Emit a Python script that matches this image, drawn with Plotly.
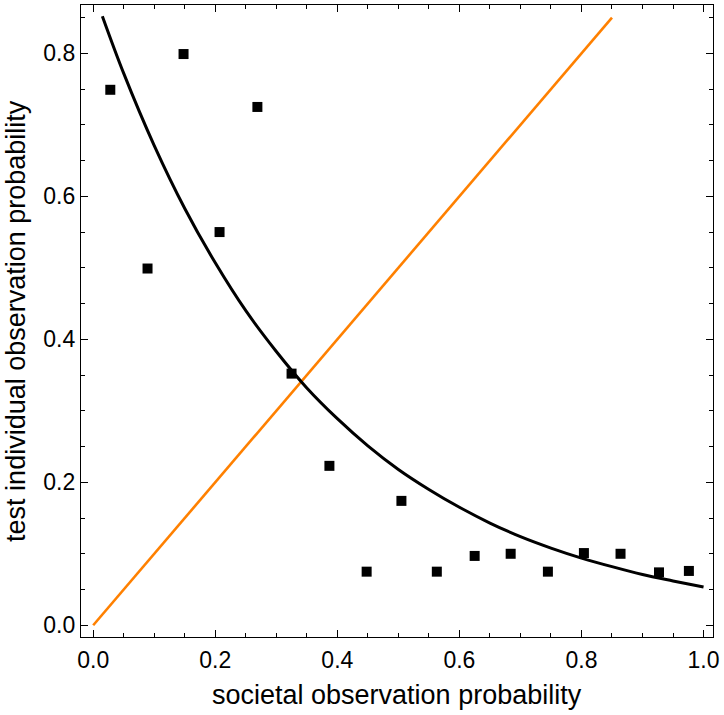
import plotly.graph_objects as go

# Data points
point_x = [0.028, 0.089, 0.148, 0.207, 0.269, 0.325, 0.387, 0.448, 0.505,
           0.563, 0.625, 0.684, 0.745, 0.804, 0.864, 0.927, 0.976]
point_y = [0.749, 0.499, 0.799, 0.550, 0.725, 0.352, 0.223, 0.075, 0.174,
           0.075, 0.097, 0.100, 0.075, 0.101, 0.100, 0.074, 0.076]

# Black fitted curve
curve_x = [0.015, 0.05, 0.1, 0.15, 0.2, 0.25, 0.3, 0.35, 0.4, 0.45, 0.5,
           0.55, 0.6, 0.65, 0.7, 0.75, 0.8, 0.85, 0.9, 0.95, 1.0]
curve_y = [0.852, 0.772, 0.671, 0.583, 0.507, 0.440, 0.383, 0.332, 0.289,
           0.251, 0.218, 0.190, 0.165, 0.143, 0.124, 0.108, 0.094, 0.082,
           0.071, 0.062, 0.0535]

# Orange diagonal line
diag_x = [0.0, 0.85]
diag_y = [0.0, 0.85]

tick_vals = [0.0, 0.2, 0.4, 0.6, 0.8, 1.0]
tick_text = ["0.0", "0.2", "0.4", "0.6", "0.8", "1.0"]

x_title = "societal observation probability"
y_title = "test individual observation probability"

fig = go.Figure()
fig.add_trace(go.Scatter(x=diag_x, y=diag_y, mode="lines",
                         line=dict(color="#FF8000", width=2.6), showlegend=False))
fig.add_trace(go.Scatter(x=curve_x, y=curve_y, mode="lines",
                         line=dict(color="black", width=3, shape="spline"),
                         showlegend=False))
fig.add_trace(go.Scatter(x=point_x, y=point_y, mode="markers",
                         marker=dict(symbol="square", size=10, color="black"),
                         showlegend=False))

font_family = "Liberation Sans, Arial, sans-serif"
axis_common = dict(
    showline=True, linecolor="black", linewidth=1.2, mirror="allticks",
    ticks="inside", ticklen=7, tickwidth=1, tickcolor="black",
    showgrid=False, zeroline=False, automargin=False,
    tickfont=dict(family=font_family, size=23, color="black"),
    minor=dict(dtick=0.05, ticks="inside", ticklen=4, tickcolor="black", tickwidth=1),
)

fig.update_xaxes(range=[-0.02, 1.0155], tickvals=tick_vals, ticktext=tick_text,
                 ticklabelstandoff=2, **axis_common)
fig.update_yaxes(range=[-0.0164, 0.8676], tickvals=tick_vals[:5], ticktext=tick_text[:5],
                 ticklabelstandoff=0, **axis_common)

fig.add_annotation(text=x_title, xref="paper", yref="paper", x=0.5, y=-0.0917,
                   xanchor="center", yanchor="middle", showarrow=False,
                   font=dict(family=font_family, size=27, color="black"))
fig.add_annotation(text=y_title, xref="paper", yref="paper", x=-0.103, y=0.5,
                   xanchor="center", yanchor="middle", showarrow=False, textangle=-90,
                   font=dict(family=font_family, size=27, color="black"))

fig.update_layout(width=724, height=715,
                  margin=dict(l=81, r=11, t=5, b=78),
                  plot_bgcolor="white", paper_bgcolor="white")

fig.write_html("out.html",
               config={"displayModeBar": False},
               post_script="document.body.style.margin='0';document.body.style.overflow='hidden';")
